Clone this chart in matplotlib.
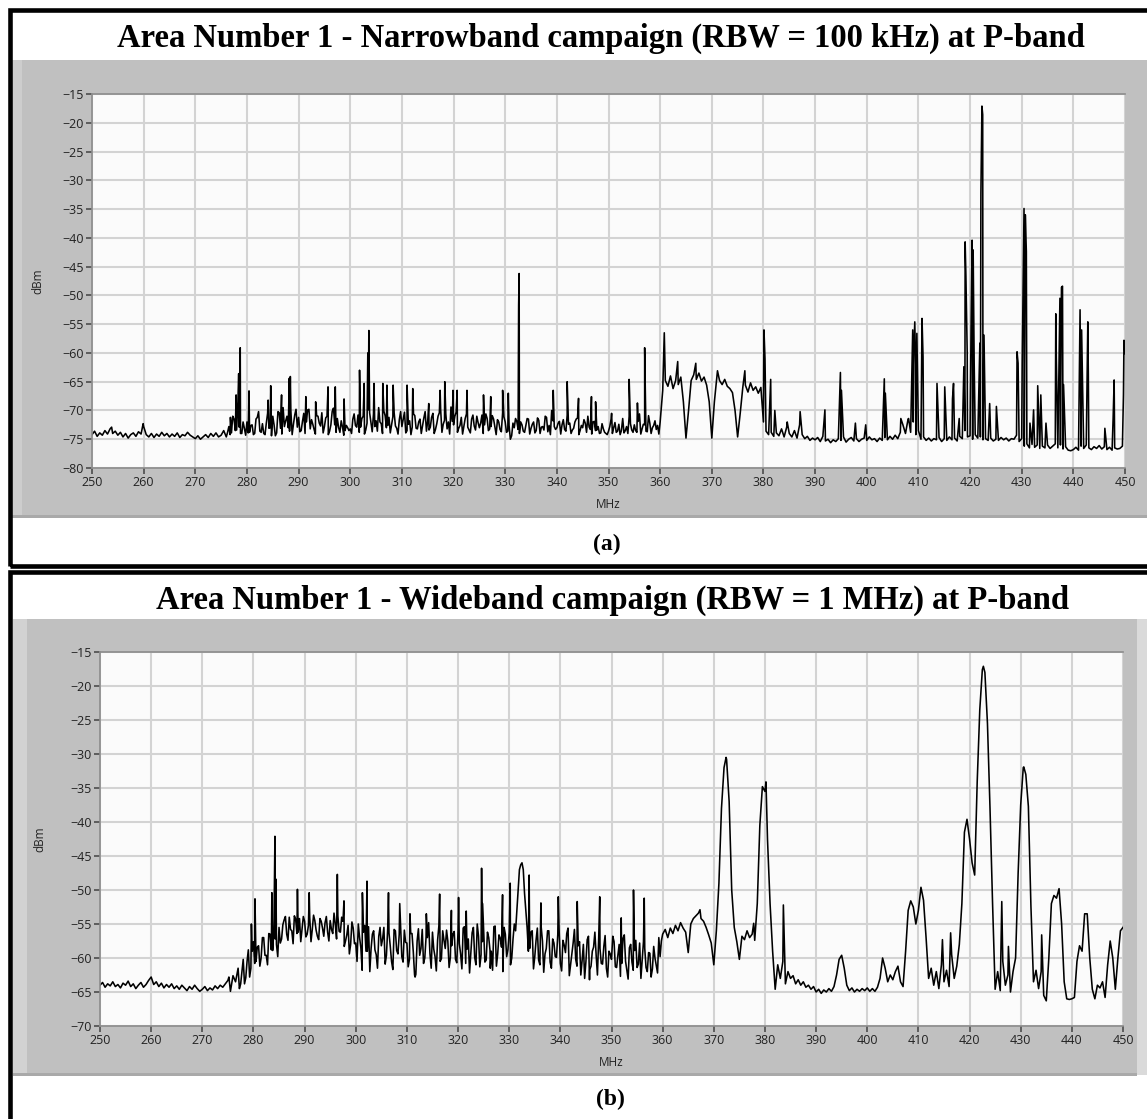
import numpy as np
import matplotlib
matplotlib.use("Agg")
import matplotlib.pyplot as plt
from matplotlib.patches import Rectangle

# ---------------- data ----------------
title_a = "Area Number 1 - Narrowband campaign (RBW = 100 kHz) at P-band"
title_b = "Area Number 1 - Wideband campaign (RBW = 1 MHz) at P-band"
caption_a = "(a)"
caption_b = "(b)"
x_label = "MHz"
y_label = "dBm"
x_ticks = list(range(250, 451, 10))
y_ticks_a = list(range(-80, -14, 5))
y_ticks_b = list(range(-70, -14, 5))

f_start = 250.0
f_step = 0.5

# Narrowband trace, sampled every 0.5 MHz from 250 to 450 MHz
level_a = [
    -74.2, -73.6, -74.5, -73.9, -74.3, -73.5, -74.1, -73.2, -74.0, -73.6,
    -74.3, -73.8, -74.6, -74.0, -74.8, -74.2, -73.9, -74.5, -73.7, -74.1,
    -72.8, -74.2, -74.6, -74.0, -74.7, -74.1, -74.5, -73.8, -74.4, -74.0,
    -74.6, -74.1, -74.5, -73.9, -74.7, -74.2, -74.4, -73.8, -74.3, -74.6,
    -74.9, -74.4, -75.0, -74.6, -74.2, -74.7, -74.0, -74.5, -73.9, -74.6,
    -74.3, -73.5, -74.6, -72.8, -73.9, -71.5, -73.4, -72.9, -74.0, -73.1,
    -72.0, -73.8, -72.5, -74.0, -71.2, -73.6, -72.3, -74.2, -70.5, -73.0,
    -71.0, -74.4, -70.2, -73.1, -69.5, -71.8, -73.0, -70.0, -72.4, -69.8,
    -71.2, -73.5, -70.5, -72.0, -69.8, -71.6, -73.3, -70.9, -72.2, -70.4,
    -72.8, -71.0, -73.6, -70.2, -72.5, -71.4, -73.8, -72.9, -73.5, -73.0,
    -73.2, -71.5, -72.6, -70.8, -72.9, -71.0, -73.4, -69.9, -72.0, -70.6,
    -71.8, -69.5, -72.3, -70.1, -73.0, -71.2, -72.5, -70.4, -73.1, -71.6,
    -72.8, -70.3, -73.5, -71.8, -72.9, -70.9, -73.2, -71.5, -72.6, -70.2,
    -71.8, -72.9, -70.5, -73.3, -71.0, -69.8, -72.4, -70.6, -72.0, -69.4,
    -72.5, -70.3, -73.1, -71.2, -72.8, -70.6, -73.4, -71.5, -72.7, -71.0,
    -73.0, -70.8, -72.5, -71.4, -73.2, -70.9, -72.8, -71.6, -73.3, -70.4,
    -72.0, -73.6, -75.0, -72.2, -71.4, -73.3, -72.0, -73.6, -72.6, -71.5,
    -73.1, -72.0, -73.5, -71.7, -72.9, -73.4, -71.2, -72.6, -70.0, -72.8,
    -73.0, -71.9, -72.5, -73.3, -70.8, -72.2, -73.4, -72.0, -71.3, -73.5,
    -73.0, -72.2, -71.0, -73.3, -72.0, -73.5, -72.8, -73.9, -73.2, -74.0,
    -73.6, -71.5, -73.0, -73.8, -72.4, -73.5, -73.9, -72.8, -71.0, -73.4,
    -72.5, -73.8, -70.6, -73.2, -72.5, -73.7, -72.2, -73.0, -71.8, -72.6,
    -72.0, -66.5, -64.8, -65.8, -64.0, -66.2, -64.8, -65.5, -64.2, -68.5,
    -74.8, -70.0, -64.8, -63.8, -64.6, -63.5, -64.9, -64.2, -65.6, -68.5,
    -74.8, -68.5, -64.0, -64.8, -65.5, -64.6, -65.8, -66.2, -66.9, -70.0,
    -74.6, -70.5, -66.0, -65.6, -66.8, -65.2, -66.5, -65.9, -67.0, -66.0,
    -72.0, -73.6, -74.2, -73.8, -74.5, -73.9, -74.4, -73.2, -74.6, -72.9,
    -74.0, -74.6, -73.5, -74.8, -72.5, -74.2, -74.9, -74.5, -75.2, -74.8,
    -75.1, -74.7, -75.4, -74.5, -75.3, -75.0, -75.6, -75.1, -75.4, -74.9,
    -75.2, -74.6, -75.5, -75.0, -74.7, -75.3, -74.9, -75.4, -75.0, -74.8,
    -75.2, -74.6, -75.1, -74.9, -75.4, -74.8, -75.2, -74.7, -75.1, -74.5,
    -75.0, -74.3, -74.9, -73.8, -72.5, -74.0, -71.5, -73.8, -72.0, -74.2,
    -73.5, -75.0, -74.6, -75.2, -74.8, -75.3, -74.9, -75.1, -74.7, -75.4,
    -74.9, -75.2, -74.6, -75.1, -74.8, -75.3, -74.5, -74.9, -73.5, -74.6,
    -74.4, -75.0, -74.2, -74.8, -74.6, -75.1, -74.9, -75.2, -74.8, -75.3,
    -75.0, -75.2, -74.7, -75.1, -74.8, -75.3, -74.9, -75.0, -74.3, -75.4,
    -74.9, -76.2, -75.8, -76.5, -75.9, -76.4, -76.0, -76.6, -76.2, -76.5,
    -76.0, -76.6, -76.2, -75.8, -76.5, -76.0, -76.7, -76.3, -76.9, -77.0,
    -76.8, -76.4, -76.9, -76.2, -76.6, -76.0, -76.5, -76.8, -76.3, -76.6,
    -76.1, -76.7, -76.3, -76.8, -76.4, -76.9, -76.5, -76.7, -76.6, -76.2,
    -60.1,
]

# Narrowband trace, in-between samples of the noisy 276-360 MHz stretch
mid_start_a = 276.25
mid_a = [
    -73.8, -74.2, -71.0, -73.5, -68.5, -74.0, -72.0, -74.3,
    -73.9, -72.6, -74.2, -71.5, -70.2, -73.8, -74.0, -72.2, -73.1, -74.4,
    -72.5, -73.9, -70.4, -74.1, -72.8, -71.0, -73.6, -74.2, -70.8, -72.9,
    -73.7, -71.9, -74.0, -69.9, -73.2, -72.4, -74.1, -71.0, -72.7, -73.9,
    -71.3, -74.2, -72.5, -69.6, -73.8, -73.0, -71.8, -74.3, -72.6, -73.5,
    -74.0, -70.6, -72.9, -73.8, -71.4, -74.1, -72.2, -70.4, -73.7, -72.8,
    -73.6, -72.0, -74.0, -70.9, -72.6, -73.9, -71.1, -72.7, -74.1, -70.2,
    -71.6, -73.9, -72.4, -74.2, -70.6, -73.1, -72.0, -74.0, -71.3, -73.6,
    -73.4, -71.2, -74.0, -72.3, -70.4, -73.8, -71.7, -73.2, -74.1, -71.9,
    -71.0, -73.8, -72.6, -74.1, -71.4, -72.9, -73.9, -70.8, -73.4, -72.1,
    -72.2, -74.0, -70.6, -73.5, -72.8, -71.5, -74.2, -72.0, -73.7, -71.1,
    -73.8, -72.6, -74.4, -73.0, -71.9, -74.0, -72.5, -73.8, -71.4, -74.1,
    -72.4, -73.9, -71.3, -74.0, -72.8, -71.0, -73.7, -74.2, -71.8, -73.3,
    -72.2, -74.1, -71.6, -73.6, -72.4, -74.0, -73.1, -71.5, -74.2, -72.6,
    -71.6, -73.8, -72.9, -74.1, -71.9, -73.4, -74.0, -72.3, -73.8, -74.2,
    -72.8, -74.0, -72.1, -73.6, -74.2, -71.4, -73.5, -74.0, -72.3, -73.8,
    -73.5, -71.9, -74.1, -72.4, -73.6, -70.9, -74.0, -72.6, -73.3, -74.1,
]

# Narrow carriers of the narrowband trace (MHz, dBm)
spike_f_a = [
    253.8, 259.9, 276.8, 277.9, 278.4, 278.7, 280.4, 284.1, 284.6, 286.7,
    288.2, 288.4, 291.4, 293.3, 295.7, 297.1, 298.8, 301.8, 302.7, 303.4,
    303.6, 304.6, 306.3, 307.1, 308.3, 311.0, 312.1, 315.2, 317.4, 318.3,
    319.9, 320.7, 322.6, 325.8, 327.2, 329.5, 330.6, 332.6, 332.7, 339.3,
    342.0, 344.2, 346.7, 347.5, 350.6, 354.0, 355.6, 357.0, 360.8, 363.4,
    366.9, 371.1, 376.4, 380.1, 380.3, 381.4, 382.2, 384.6, 387.1, 391.9,
    394.9, 395.1, 397.8, 399.8, 403.4, 403.6, 406.6, 408.1, 408.9, 409.1,
    409.3, 409.45, 409.7, 410.7, 410.9, 413.6, 415.1, 416.6, 416.8, 417.9,
    418.8, 419.05, 419.2, 419.45, 420.2, 420.4, 420.6, 420.8, 421.9, 422.1,
    422.3, 422.45, 422.7, 423.8, 425.1, 429.1, 429.3, 430.1, 430.45, 430.7,
    430.9, 431.6, 432.3, 433.1, 433.7, 434.7, 436.6, 436.7, 437.4, 437.7,
    437.9, 438.1, 441.3, 441.6, 442.8, 442.9, 446.1, 447.7, 447.9, 449.7,
    449.8,
]
spike_v_a = [
    -72.9, -72.3, -71.2, -67.3, -63.6, -59.1, -66.6, -68.2, -65.7, -67.3,
    -64.4, -64.1, -67.6, -68.5, -65.9, -65.9, -68.0, -63.0, -65.3, -60.0,
    -56.1, -65.3, -65.3, -65.6, -65.6, -65.6, -66.2, -68.8, -66.5, -65.0,
    -66.5, -66.5, -66.5, -67.3, -67.6, -66.5, -67.0, -51.7, -46.2, -66.5,
    -65.0, -67.9, -67.6, -68.5, -70.5, -64.6, -68.7, -59.1, -56.5, -61.5,
    -61.8, -63.1, -63.1, -56.0, -61.0, -64.6, -70.0, -72.0, -70.2, -69.9,
    -63.4, -66.5, -72.2, -72.5, -64.5, -67.0, -71.4, -71.4, -56.0, -60.0,
    -54.6, -62.0, -56.6, -54.0, -60.7, -65.3, -65.9, -68.0, -65.3, -71.4,
    -62.4, -40.7, -46.7, -60.0, -55.4, -40.4, -42.1, -61.8, -58.3, -32.3,
    -17.1, -18.6, -56.9, -68.8, -69.3, -59.8, -61.8, -61.8, -34.9, -36.0,
    -42.4, -72.2, -69.9, -65.7, -67.3, -72.2, -53.2, -60.7, -50.5, -48.6,
    -48.4, -65.5, -52.5, -56.0, -54.6, -63.8, -73.1, -71.4, -64.7, -67.3,
    -57.8,
]

# Wideband trace, sampled every 0.5 MHz from 250 to 450 MHz
level_b = [
    -64.0, -63.6, -64.3, -63.8, -64.1, -63.5, -64.2, -63.9, -64.4, -63.7,
    -64.0, -63.4, -64.2, -63.8, -64.5, -64.0, -63.6, -64.3, -63.9, -63.3,
    -62.8, -63.9, -63.5, -64.2, -63.7, -64.4, -63.9, -64.3, -63.8, -64.5,
    -64.1, -64.6, -64.0, -64.4, -64.8, -64.2, -64.6, -64.0, -64.5, -64.9,
    -64.6, -64.2, -64.8, -64.4, -64.7, -64.1, -64.5, -64.0, -64.3, -63.8,
    -63.3, -64.9, -62.6, -63.5, -61.5, -63.8, -60.2, -62.9, -58.8, -61.5,
    -57.6, -60.5, -58.2, -60.0, -57.0, -59.6, -56.4, -58.8, -55.9, -58.0,
    -55.5, -57.2, -54.4, -56.5, -54.0, -56.0, -53.8, -56.4, -54.2, -55.8,
    -54.6, -56.5, -54.0, -55.8, -54.5, -56.8, -54.2, -55.6, -54.8, -56.2,
    -54.5, -56.4, -55.0, -53.8, -56.2, -54.6, -57.5, -55.2, -58.0, -55.6,
    -57.8, -55.0, -58.5, -56.2, -59.0, -55.4, -58.6, -56.0, -59.5, -56.8,
    -58.2, -55.5, -59.6, -56.3, -60.5, -55.8, -58.9, -56.5, -59.8, -55.9,
    -57.8, -60.2, -56.4, -62.5, -57.5, -59.6, -55.8, -60.0, -57.0, -59.3,
    -56.2, -59.8, -57.4, -60.5, -56.0, -58.6, -57.5, -59.9, -56.5, -60.2,
    -56.0, -59.4, -55.6, -60.8, -57.2, -59.2, -55.5, -61.0, -56.8, -59.5,
    -55.8, -60.3, -57.0, -59.0, -55.4, -61.2, -56.6, -58.4, -55.5, -59.8,
    -56.2, -60.0, -55.0, -53.0, -47.0, -46.0, -50.5, -55.5, -58.6, -56.0,
    -59.8, -55.6, -61.0, -57.5, -59.4, -56.0, -60.6, -57.2, -59.8, -56.5,
    -60.8, -57.4, -59.2, -55.6, -61.0, -57.8, -60.2, -58.2, -62.5, -58.0,
    -60.5, -56.8, -61.2, -58.4, -59.6, -57.0, -60.8, -58.3, -61.5, -59.0,
    -60.2, -57.6, -61.4, -58.0, -60.8, -56.6, -61.8, -58.5, -60.6, -58.9,
    -61.4, -57.8, -60.2, -58.6, -62.0, -59.3, -61.6, -60.0, -62.2, -59.8,
    -56.5, -55.8, -57.0, -55.6, -56.4, -55.2, -56.0, -54.8, -55.6, -56.2,
    -59.2, -55.0, -54.2, -53.8, -53.4, -54.2, -54.6, -55.5, -56.6, -57.8,
    -61.0, -56.0, -49.0, -38.0, -32.0, -30.8, -37.0, -50.0, -55.5, -57.6,
    -60.2, -56.8, -57.3, -56.0, -57.0, -56.5, -57.4, -52.0, -40.5, -34.8,
    -35.5, -42.6, -52.0, -59.0, -64.6, -61.0, -63.0, -60.5, -63.8, -62.0,
    -63.0, -62.6, -63.8, -63.2, -64.0, -63.5, -64.3, -64.0, -64.6, -64.2,
    -65.0, -64.6, -65.2, -64.7, -65.0, -64.5, -64.9, -64.2, -62.5, -60.2,
    -59.6, -61.5, -64.0, -64.8, -64.4, -65.0, -64.6, -64.9, -64.5, -64.8,
    -64.4, -64.9, -64.5, -64.9, -64.3, -63.0, -60.0, -61.5, -63.5, -62.5,
    -63.2, -62.0, -61.2, -63.5, -64.2, -59.0, -53.0, -51.6, -52.5, -55.0,
    -53.0, -49.6, -51.5, -57.0, -63.0, -61.5, -64.0, -62.0, -64.5, -61.0,
    -63.5, -61.8, -64.2, -59.5, -63.0, -61.2, -58.0, -52.0, -41.5, -39.6,
    -42.5, -46.0, -47.8, -34.0, -23.5, -17.6, -18.0, -25.5, -38.0, -52.0,
    -64.6, -62.0, -64.8, -60.5, -64.0, -62.5, -65.0, -62.0, -60.0, -47.5,
    -37.5, -32.0, -33.0, -37.7, -52.4, -63.5, -61.8, -64.5, -62.0, -65.5,
    -66.3, -60.0, -52.0, -50.8, -51.2, -49.8, -55.0, -63.5, -66.0, -66.1,
    -66.0, -65.8, -60.5, -58.2, -59.0, -53.5, -53.5, -60.0, -64.6, -66.0,
    -64.0, -64.4, -63.5, -65.8, -61.0, -57.5, -60.0, -64.6, -60.0, -56.0,
    -55.5,
]

# Wideband trace, in-between samples of the noisy 277-360 MHz stretch
mid_start_b = 277.25
mid_b = [
    -64.5, -62.0, -63.8, -60.5, -62.8, -59.0,
    -60.8, -58.4, -61.2, -57.0, -59.6, -61.0, -56.5, -58.9, -57.2, -59.8,
    -57.8, -55.1, -53.9, -57.4, -55.8, -57.9, -54.3, -56.2, -57.6, -53.9,
    -56.9, -55.2, -57.6, -53.7, -55.9, -57.3, -54.6, -56.8, -53.9, -57.5,
    -55.8, -53.4, -57.2, -56.1, -54.0, -58.3, -56.6, -59.4, -54.7, -57.9,
    -60.5, -57.0, -61.8, -55.2, -59.0, -62.0, -56.5, -58.8, -61.5, -55.5,
    -57.2, -60.9, -55.6, -58.3, -61.7, -56.0, -59.4, -54.9, -60.6, -57.7,
    -61.3, -56.4, -59.1, -62.4, -55.7, -58.6, -60.8, -56.9, -54.8, -61.5,
    -58.7, -61.9, -55.3, -60.1, -57.4, -55.9, -61.4, -58.2, -56.1, -60.7,
    -57.9, -61.6, -55.4, -58.7, -62.2, -56.3, -59.9, -55.0, -61.3, -57.6,
    -60.6, -56.2, -58.9, -61.8, -55.3, -59.4, -57.1, -62.0, -56.5, -58.8,
    -61.0, -57.2, -56.0, -50.0, -46.3, -47.0, -53.0, -59.0, -56.2, -61.6,
    -57.4, -60.3, -55.4, -62.1, -58.6, -56.0, -61.5, -57.8, -59.9, -55.7,
    -61.9, -58.1, -56.4, -62.6, -59.3, -55.8, -61.2, -57.6, -60.4, -63.0,
    -57.3, -61.7, -59.0, -56.2, -62.5, -58.6, -60.9, -56.7, -62.8, -59.4,
    -56.8, -61.3, -59.6, -62.7, -57.1, -60.5, -63.1, -58.0, -61.8, -57.4,
    -60.9, -63.0, -57.6, -61.4, -59.2, -62.8, -58.3, -61.1, -57.0, -57.5,
]

# Extra narrow features of the wideband trace (MHz, dBm)
spike_f_b = [
    275.2, 279.6, 280.3, 283.6, 284.2, 284.4, 288.6, 290.9, 296.4, 297.7,
    301.3, 302.2, 306.4, 308.6, 310.6, 311.6, 313.8, 316.4, 318.7, 320.1,
    321.6, 324.6, 324.8, 326.3, 328.7, 330.2, 333.9, 336.2, 339.6, 343.3,
    345.7, 347.7, 351.9, 354.3, 356.4, 357.8, 367.3, 372.4, 377.8, 380.2,
    383.6, 414.7, 416.3, 422.7, 426.3, 427.6, 430.6, 434.1,
]
spike_v_b = [
    -62.8, -55.0, -51.3, -50.4, -42.1, -48.4, -49.9, -50.4, -47.7, -51.6,
    -50.4, -48.7, -50.4, -52.0, -53.5, -62.8, -53.5, -50.6, -53.0, -51.1,
    -53.1, -46.8, -52.0, -61.5, -50.7, -49.0, -47.8, -51.9, -51.0, -51.7,
    -63.2, -51.0, -54.1, -50.0, -51.2, -62.5, -52.9, -30.5, -54.9, -34.1,
    -52.2, -57.3, -56.3, -17.1, -51.7, -58.3, -31.9, -56.6,
]

# ---------------- layout ----------------
W, H = 1147, 1119
plt.rcParams["font.family"] = ["Open Sans", "DejaVu Sans"]
fig = plt.figure(figsize=(W / 100, H / 100), dpi=100)
fig.patch.set_facecolor("white")


def frect(x0, y0, x1, y1):
    return (x0 / W, 1 - y1 / H, (x1 - x0) / W, (y1 - y0) / H)


def add_box(x0, y0, x1, y1, z=-10, **kw):
    l, b, w, h = frect(x0, y0, x1, y1)
    fig.patches.append(Rectangle((l, b), w, h, transform=fig.transFigure,
                                 zorder=z, **kw))


# outer black frames
add_box(10, 10, 1160, 566, fill=False, edgecolor="black", linewidth=3.3, z=-5)
add_box(10, 572, 1160, 1140, fill=False, edgecolor="black", linewidth=3.3, z=-5)

# grey chart panels
add_box(12, 60, 1147, 517, facecolor="#c0c0c0", edgecolor="none")
add_box(12, 60, 22, 517, facecolor="#cdcdcd", edgecolor="none", z=-9)
add_box(12, 515, 1147, 518, facecolor="#a9a9a9", edgecolor="none", z=-9)
add_box(13, 619, 1137, 1075, facecolor="#c0c0c0", edgecolor="none")
add_box(13, 619, 27, 1075, facecolor="#d2d2d2", edgecolor="none", z=-9)
add_box(1137, 619, 1147, 1075, facecolor="#dadada", edgecolor="none", z=-9)
add_box(13, 1073, 1137, 1076, facecolor="#a9a9a9", edgecolor="none", z=-9)


def trace(levels, mid_start, mids, sf, sv):
    f = f_start + f_step * np.arange(len(levels))
    fm = mid_start + f_step * np.arange(len(mids))
    ff = np.concatenate([f, fm, np.asarray(sf, float)])
    vv = np.concatenate([np.asarray(levels, float), np.asarray(mids, float),
                         np.asarray(sv, float)])
    o = np.argsort(ff, kind="stable")
    return ff[o], vv[o]


def style_axes(ax, yticks):
    ax.set_facecolor("#fbfbfb")
    ax.set_xlim(250, 450)
    ax.set_ylim(yticks[0], yticks[-1])
    ax.set_xticks(x_ticks)
    ax.set_yticks(yticks)
    ax.grid(True, color="#d3d3d3", linewidth=1.5)
    ax.set_axisbelow(True)
    for s in ("left", "bottom", "top"):
        ax.spines[s].set_color("#8c8c8c")
        ax.spines[s].set_linewidth(1.2)
    ax.spines["right"].set_visible(False)
    ax.tick_params(direction="out", length=4, width=1.3, color="#555555",
                   labelsize=9, labelcolor="#222222", pad=2)


# panel (a)
ax_a = fig.add_axes(frect(92, 94, 1125, 468))
style_axes(ax_a, y_ticks_a)
fa, va = trace(level_a, mid_start_a, mid_a, spike_f_a, spike_v_a)
ax_a.plot(fa, va, color="black", linewidth=1.15)

# panel (b)
ax_b = fig.add_axes(frect(100, 652, 1123, 1026))
style_axes(ax_b, y_ticks_b)
fb, vb = trace(level_b, mid_start_b, mid_b, spike_f_b, spike_v_b)
ax_b.plot(fb, vb, color="black", linewidth=1.15)

# texts
serif = ["Liberation Serif", "DejaVu Serif"]
fig.text(601 / W, 1 - 38 / H, title_a, family=serif, weight="bold",
         fontsize=23.5, ha="center", va="center")
fig.text(612 / W, 1 - 600 / H, title_b, family=serif, weight="bold",
         fontsize=23.5, ha="center", va="center")
fig.text(607 / W, 1 - 544 / H, caption_a, family=serif, weight="bold",
         fontsize=17, ha="center", va="center")
fig.text(610 / W, 1 - 1099 / H, caption_b, family=serif, weight="bold",
         fontsize=17, ha="center", va="center")

fig.text(608 / W, 1 - 505 / H, x_label, fontsize=8.5, color="#222222",
         ha="center", va="center")
fig.text(38 / W, 1 - 281 / H, y_label, fontsize=8.5, color="#222222",
         ha="center", va="center", rotation=90)
fig.text(611 / W, 1 - 1063 / H, x_label, fontsize=8.5, color="#222222",
         ha="center", va="center")
fig.text(40 / W, 1 - 839 / H, y_label, fontsize=8.5, color="#222222",
         ha="center", va="center", rotation=90)

fig.savefig("out.png", dpi=100)
